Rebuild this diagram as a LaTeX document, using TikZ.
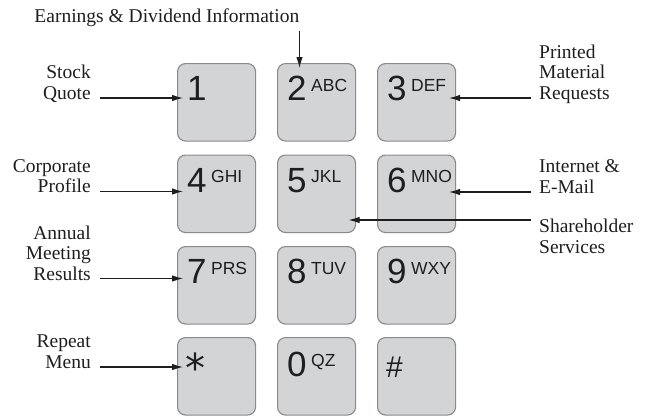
\documentclass[tikz,border=0pt]{standalone}
\usepackage{fontspec}
\setmainfont{Liberation Serif}
\newfontfamily\keyfont{Liberation Sans}
\newfontfamily\astfont{DejaVu Sans}
\usetikzlibrary{arrows.meta,calc}
\definecolor{keyfill}{HTML}{D3D4D6}
\definecolor{keyline}{HTML}{8A8A8A}
\definecolor{ink}{HTML}{1E1E1E}
\newcommand\lett[1]{\hspace{4.5pt}\raisebox{9.5pt}{\fontsize{17.5}{17.5}\selectfont #1}}
\begin{document}
\begin{tikzpicture}[x=1pt,y=-1pt,
  key/.style={draw=keyline, fill=keyfill, line width=1.1pt, rounded corners=8pt,
    minimum width=78pt, minimum height=77.5pt, inner sep=0pt, anchor=north west},
  lbl/.style={font=\fontsize{19.5}{20.5}\selectfont, text=ink, inner sep=0pt},
  lft/.style={lbl, align=right, anchor=base east},
  rgt/.style={lbl, align=left, anchor=base west},
  arr/.style={draw=ink, line width=1.1pt, -{Latex[length=11pt,width=6.5pt]}},
  digit/.style={font=\keyfont\fontsize{35}{35}\selectfont, text=ink, inner sep=0pt, anchor=base west},
]
\useasboundingbox (0,0) rectangle (650,415);

% keys
\node[key] (k1) at (177,63) {};
\node[key] (k2) at (277,63) {};
\node[key] (k3) at (377,63) {};
\node[key] (k4) at (177,154.5) {};
\node[key] (k5) at (277,154.5) {};
\node[key] (k6) at (377,154.5) {};
\node[key] (k7) at (177,246) {};
\node[key] (k8) at (277,246) {};
\node[key] (k9) at (377,246) {};
\node[key] (ks) at (177,337) {};
\node[key] (k0) at (277,337) {};
\node[key] (kh) at (377,337) {};

% key texts
\node[digit] (t1) at ($(k1.north west)+(10,37.5)$) {1};
\node[digit] (t2) at ($(k2.north west)+(10,37.5)$) {2\lett{ABC}};
\node[digit] (t3) at ($(k3.north west)+(10,37.5)$) {3\lett{DEF}};
\node[digit] (t4) at ($(k4.north west)+(10,37.5)$) {4\lett{GHI}};
\node[digit] (t5) at ($(k5.north west)+(10,37.5)$) {5\lett{JKL}};
\node[digit] (t6) at ($(k6.north west)+(10,37.5)$) {6\lett{MNO}};
\node[digit] (t7) at ($(k7.north west)+(10,37.5)$) {7\lett{PRS}};
\node[digit] (t8) at ($(k8.north west)+(10,37.5)$) {8\lett{TUV}};
\node[digit] (t9) at ($(k9.north west)+(10,37.5)$) {9\lett{WXY}};
\node[text=ink, inner sep=0pt, anchor=base, font=\astfont\fontsize{40}{40}\selectfont] (ts) at ($(ks.north west)+(18,45)$) {*};
\node[digit] (t0) at ($(k0.north west)+(10,39)$) {0\lett{QZ}};
\node[digit, font=\keyfont\fontsize{30}{30}\selectfont] (th) at ($(kh.north west)+(9,40)$) {\#};

% labels
\node[lbl, anchor=base east] (title) at (299.5,22.7) {Earnings \& Dividend Information};
\node[lft] (l1) at (91,99) {Stock\\Quote};
\node[lft] (l2) at (91,192.5) {Corporate\\Profile};
\node[lft] (l3) at (91,280) {Annual\\Meeting\\Results};
\node[lft] (l4) at (91,368) {Repeat\\Menu};
\node[rgt] (r1) at (539,99.3) {Printed\\Material\\Requests};
\node[rgt] (r2) at (539,193) {Internet \&\\E-Mail};
\node[rgt] (r3) at (539,253) {Shareholder\\Services};

% arrow start points
\coordinate (c0) at (299.5,31);
\coordinate (a1) at (100,98);
\coordinate (a2) at (100,191.5);
\coordinate (a3) at (100,278.5);
\coordinate (a4) at (100,367);
\coordinate (b1) at (531,98);
\coordinate (b2) at (531,192);
\coordinate (b3) at (531,220);

\draw[arr, shorten >=-5pt] (c0) -- (c0 |- k2.north);
\draw[arr, shorten >=-6pt] (a1) -- (a1 -| k1.west);
\draw[arr, shorten >=-6pt] (a2) -- (a2 -| k4.west);
\draw[arr, shorten >=-6pt] (a3) -- (a3 -| k7.west);
\draw[arr, shorten >=-6pt] (a4) -- (a4 -| ks.west);
\draw[arr, shorten >=-7pt] (b1) -- (b1 -| k3.east);
\draw[arr, shorten >=-7pt] (b2) -- (b2 -| k6.east);
\draw[arr, shorten >=-7.5pt] (b3) -- (b3 -| k5.east);
\end{tikzpicture}
\end{document}
